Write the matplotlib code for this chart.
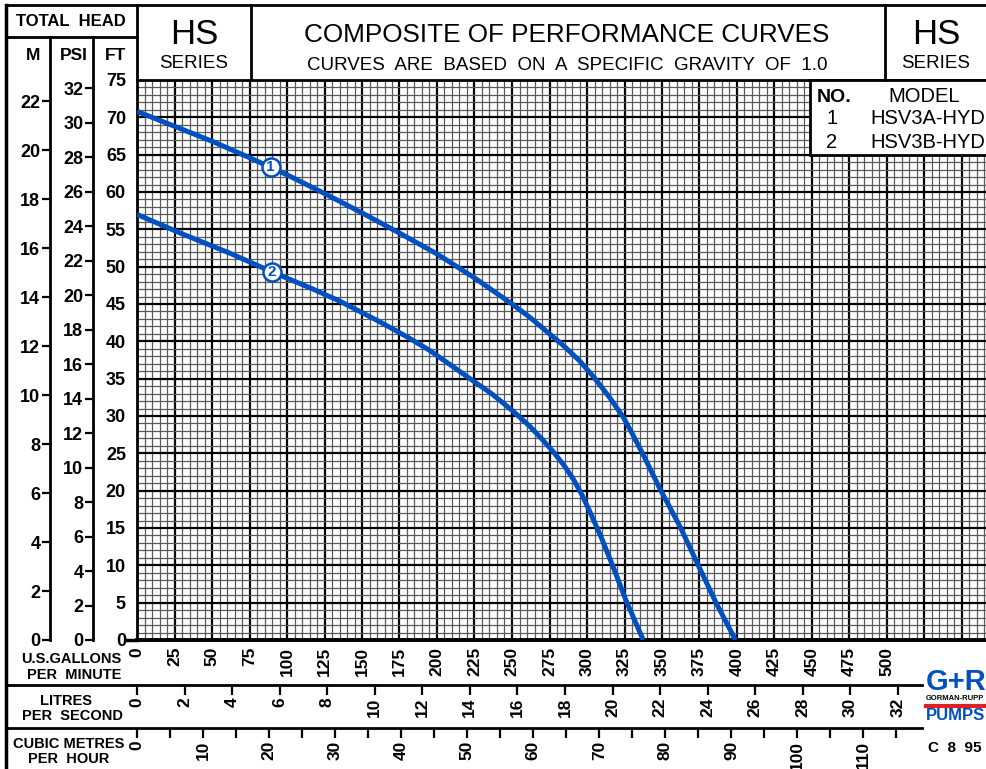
import matplotlib
matplotlib.use('Agg')
import matplotlib.pyplot as plt
import matplotlib.ticker as ticker
from matplotlib.patches import Rectangle
import numpy as np

# curve data: US gpm vs total head (ft)
gpm_1 = [0, 25, 50, 75, 100, 125, 150, 175, 200, 225, 250, 262, 275, 285, 295, 305,
         315, 324, 330, 337, 349, 362, 373, 386, 399]
ft_1 = [70.8, 68.8, 66.8, 64.6, 62.3, 59.8, 57.2, 54.5, 51.7, 48.5, 45.0, 43.2, 41.0,
        39.3, 37.4, 35.1, 32.5, 29.9, 27.7, 25.0, 20.1, 15.2, 10.5, 5.0, 0]
gpm_2 = [0, 30, 62, 90, 115, 135, 162, 180, 195, 210, 222, 237, 251, 262, 270, 278,
         285, 291, 297, 303, 310, 318, 326, 337.5]
ft_2 = [57.0, 54.4, 51.8, 49.3, 47.2, 45.4, 42.6, 40.6, 38.8, 36.7, 35.0, 32.9, 30.6,
        28.6, 26.9, 25.1, 23.3, 21.5, 19.3, 16.7, 13.5, 9.5, 5.3, 0]

marker_gpm = [89, 90]
marker_ft = [63.3, 49.3]
curve_no = ['1', '2']
models = ['HSV3A-HYD', 'HSV3B-HYD']

# unit conversions
FT_PER_M = 3.281
FT_PER_PSI = 2.31
GPM_PER_LPS = 15.8503
GPM_PER_M3H = 4.40287

W, H = 987, 769
BLUE = '#0050c0'
plt.rcParams['font.family'] = ['Liberation Sans', 'DejaVu Sans']
TICK_FS = 12.5

def fx(px):
    return px / W

def fy(py):
    return 1 - py / H

fig = plt.figure(figsize=(W / 100, H / 100), dpi=100)

# ---- main grid (gpm vs ft) ----
ax = fig.add_axes([fx(137), fy(640), (987 - 137) / W, (640 - 80) / H])
gpm_max = (987 - 137) / 1.5
ax.set_xlim(0, gpm_max)
ax.set_ylim(0, 75)
ax.set_xticks(np.arange(0, 575, 25))
ax.set_xticks(np.arange(0, gpm_max, 5), minor=True)
ax.set_yticks(np.arange(0, 80, 5))
ax.set_yticks(np.arange(0, 76, 1), minor=True)
ax.xaxis.set_major_formatter(ticker.FuncFormatter(lambda v, p: f"{int(v)}" if v <= 500 else ""))
ax.grid(which='minor', color='#5a5a5a', lw=0.9)
ax.grid(which='major', color='black', lw=1.6)
ax.set_axisbelow(True)
ax.tick_params(which='both', length=0)
ax.tick_params(axis='x', pad=5, labelrotation=90, labelsize=TICK_FS)
ax.tick_params(axis='y', pad=8, labelsize=TICK_FS + 0.5)
for lab in ax.get_xticklabels() + ax.get_yticklabels():
    lab.set_fontweight('bold')
for s in ['top', 'left']:
    ax.spines[s].set_linewidth(2)
ax.spines['bottom'].set_linewidth(2.8)
ax.spines['right'].set_visible(False)

ax.plot(gpm_1, ft_1, color=BLUE, lw=3.6, solid_capstyle='butt', solid_joinstyle='round', zorder=3)
ax.plot(gpm_2, ft_2, color=BLUE, lw=3.6, solid_capstyle='butt', solid_joinstyle='round', zorder=3)
ax.plot(marker_gpm, marker_ft, 'o', ms=13, mfc='white', mec=BLUE, mew=1.8, zorder=4)
for g, f, n in zip(marker_gpm, marker_ft, curve_no):
    ax.text(g, f, n, color=BLUE, fontsize=11, fontweight='bold', ha='center', va='center', zorder=5)

# ---- left head scales (M and PSI) ----
def head_axis(xpx, ft_per_unit, top_tick):
    a = fig.add_axes([fx(xpx), fy(640), 1e-4, (640 - 37) / H])
    a.set_ylim(0, (640 - 37) / 7.4667 / ft_per_unit)
    a.set_yticks(np.arange(0, top_tick + 1, 2))
    a.set_xticks([])
    for s in ['top', 'right', 'bottom']:
        a.spines[s].set_visible(False)
    a.spines['left'].set_linewidth(2)
    a.tick_params(axis='y', direction='out', length=6, width=1.6, pad=1, labelsize=TICK_FS + 0.5)
    for lab in a.get_yticklabels():
        lab.set_fontweight('bold')
    return a

head_axis(50, FT_PER_M, 22)
head_axis(93, FT_PER_PSI, 32)

# ---- bottom flow scales (L/s and m3/h) ----
def flow_axis(ypx, gpm_per_unit, major, minor=None):
    a = fig.add_axes([fx(137), fy(ypx), (987 - 137) / W, 1e-4])
    a.set_xlim(0, gpm_max / gpm_per_unit)
    a.set_xticks(major)
    if minor is not None:
        a.set_xticks(minor, minor=True)
    a.set_yticks([])
    for s in a.spines.values():
        s.set_visible(False)
    a.tick_params(axis='x', which='both', direction='out', length=7, width=1.6,
                  pad=2, labelsize=TICK_FS, labelrotation=90)
    for lab in a.get_xticklabels():
        lab.set_fontweight('bold')
    return a

flow_axis(685, GPM_PER_LPS, np.arange(0, 33, 2))
flow_axis(728, GPM_PER_M3H, np.arange(0, 111, 10), np.arange(5, 116, 10))

# ---- frame, header and labels drawn in pixel space ----
ov = fig.add_axes([0, 0, 1, 1])
ov.set_xlim(0, W)
ov.set_ylim(H, 0)
ov.axis('off')
ov.set_zorder(10)

def seg(x0, y0, x1, y1, lw=2):
    ov.plot([x0, x1], [y0, y1], color='black', lw=lw, solid_capstyle='projecting')

seg(6, 5, 987, 5)
seg(6, 5, 6, 769, 2.5)
seg(6, 37, 137, 37)
seg(137, 5, 137, 80)
seg(251, 5, 251, 80)
seg(885, 5, 885, 80)
seg(127, 640, 137, 640, 2.5)
seg(6, 685, 922, 685)
seg(6, 728, 922, 728)

ov.add_patch(Rectangle((810, 80), 180, 75, facecolor='white', edgecolor='black', lw=2))
ov.text(834, 97, 'NO.', fontsize=14, ha='center', va='center', fontweight='bold')
ov.text(924, 97, 'MODEL', fontsize=14.5, ha='center', va='center')
for i, (n, m) in enumerate(zip(curve_no, models)):
    y = 119 + 24 * i
    ov.text(832, y, n, fontsize=14.5, ha='center', va='center')
    ov.text(928, y, m, fontsize=14.5, ha='center', va='center')

ov.text(71, 22, 'TOTAL  HEAD', fontsize=12, ha='center', va='center', fontweight='bold')
ov.text(33, 55, 'M', fontsize=12.5, ha='center', va='center', fontweight='bold')
ov.text(74, 55, 'PSI', fontsize=12.5, ha='center', va='center', fontweight='bold')
ov.text(116, 55, 'FT', fontsize=12.5, ha='center', va='center', fontweight='bold')

for cx in [194, 936]:
    ov.text(cx, 35, 'HS', fontsize=25, ha='center', va='center')
    ov.text(cx, 64, 'SERIES', fontsize=13.5, ha='center', va='center')

ov.text(567, 35, 'COMPOSITE OF PERFORMANCE CURVES', fontsize=18.8, ha='center', va='center')
ov.text(567, 66, 'CURVES  ARE  BASED  ON  A  SPECIFIC  GRAVITY  OF  1.0', fontsize=13.5,
        ha='center', va='center')

ov.text(71, 659, 'U.S.GALLONS', fontsize=10.5, ha='center', va='center', fontweight='bold')
ov.text(74, 675, 'PER  MINUTE', fontsize=10.5, ha='center', va='center', fontweight='bold')
ov.text(66, 701, 'LITRES', fontsize=10.5, ha='center', va='center', fontweight='bold')
ov.text(72, 716, 'PER  SECOND', fontsize=10.5, ha='center', va='center', fontweight='bold')
ov.text(69, 744, 'CUBIC METRES', fontsize=10.5, ha='center', va='center', fontweight='bold')
ov.text(69, 759, 'PER  HOUR', fontsize=10.5, ha='center', va='center', fontweight='bold')

# company mark
ov.text(926, 682, 'G+R', fontsize=21, color=BLUE, ha='left', va='center', fontweight='heavy')
ov.text(926, 699, 'GORMAN-RUPP', fontsize=5.5, color='black', ha='left', va='center', fontweight='bold')
ov.plot([926, 987], [706, 706], color='#e02020', lw=3)
ov.text(926, 716, 'PUMPS', fontsize=12, color=BLUE, ha='left', va='center', fontweight='heavy')
ov.text(955, 748, 'C  8  95', fontsize=11, ha='center', va='center', fontweight='bold')

fig.savefig('out.png', dpi=100)
